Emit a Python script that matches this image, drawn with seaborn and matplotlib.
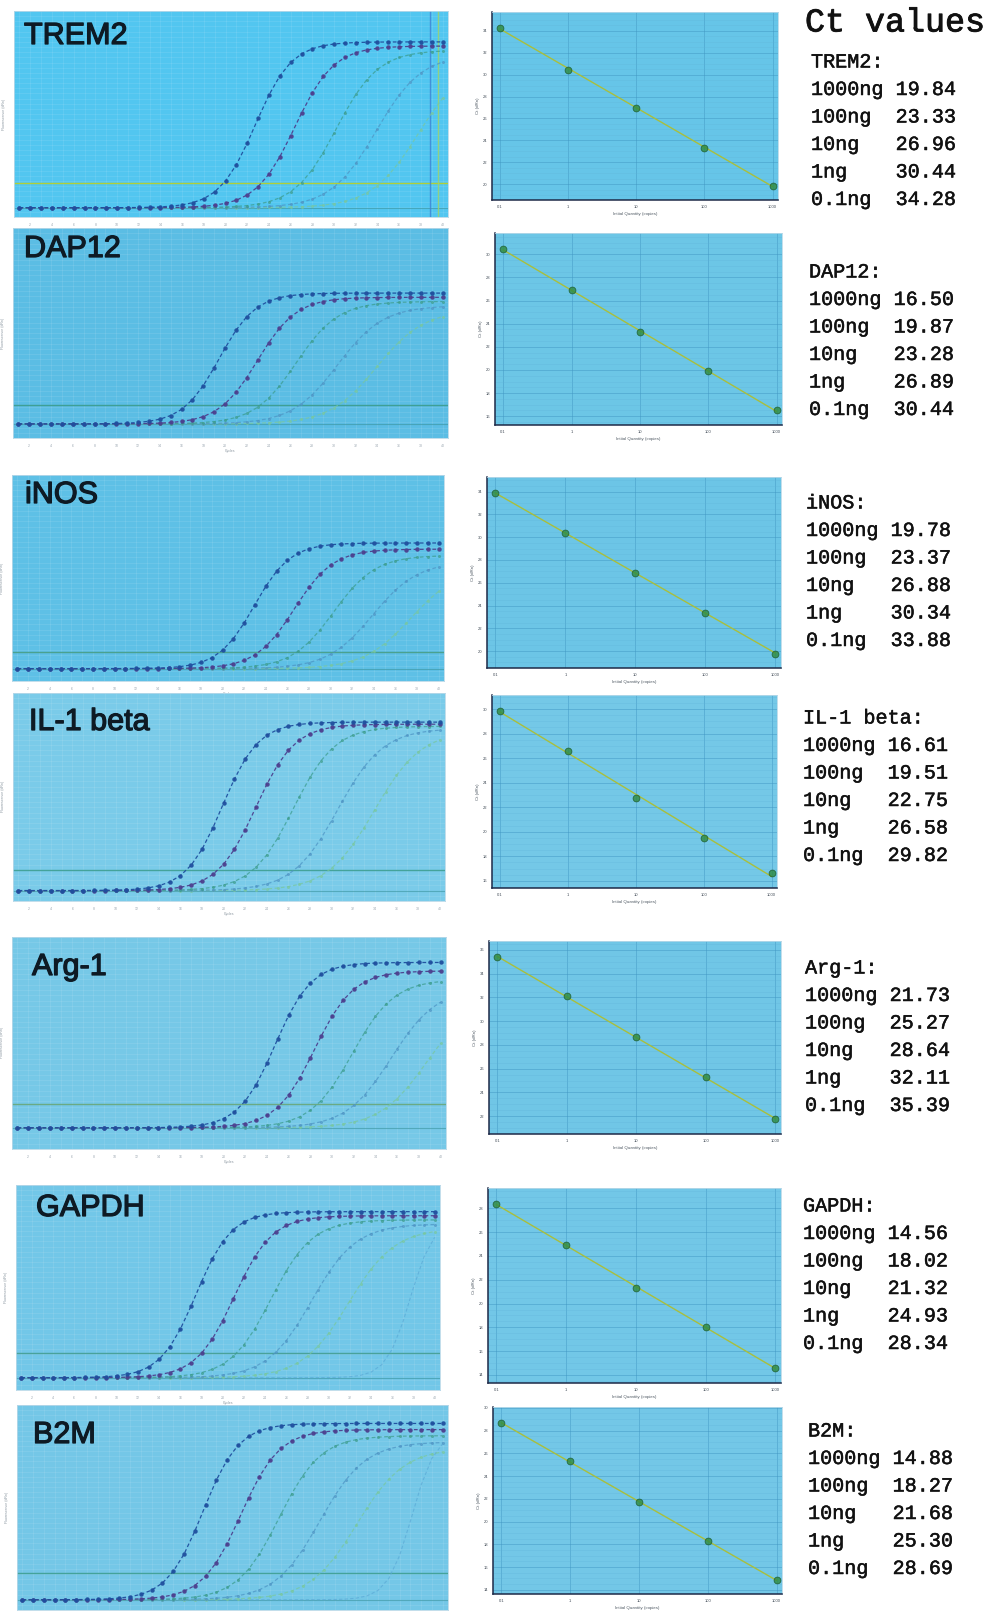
import numpy as np
import pandas as pd
import matplotlib
matplotlib.use("Agg")
import matplotlib.pyplot as plt
import matplotlib.patheffects as pe
import seaborn as sns
from matplotlib.ticker import MultipleLocator, FixedLocator, LogLocator, NullFormatter

sns.set_style("white")
plt.rcParams['font.family'] = ['Liberation Sans', 'DejaVu Sans']

W, H = 990, 1618

# ---------------- data ----------------
genes = ["TREM2", "DAP12", "iNOS", "IL-1 beta", "Arg-1", "GAPDH", "B2M"]
amounts = [1000, 100, 10, 1, 0.1]
amount_labels = ["1000ng", "100ng", "10ng", "1ng", "0.1ng"]

ct_trem2 = [19.84, 23.33, 26.96, 30.44, 34.28]
ct_dap12 = [16.50, 19.87, 23.28, 26.89, 30.44]
ct_inos = [19.78, 23.37, 26.88, 30.34, 33.88]
ct_il1b = [16.61, 19.51, 22.75, 26.58, 29.82]
ct_arg1 = [21.73, 25.27, 28.64, 32.11, 35.39]
ct_gapdh = [14.56, 18.02, 21.32, 24.93, 28.34]
ct_b2m = [14.88, 18.27, 21.68, 25.30, 28.69]
ct_all = [ct_trem2, ct_dap12, ct_inos, ct_il1b, ct_arg1, ct_gapdh, ct_b2m]

# amplification plot levels (fraction of panel height)
baseline_level = [0.045, 0.067, 0.06, 0.05, 0.10, 0.06, 0.05]
threshold_level = [0.165, 0.157, 0.14, 0.15, 0.21, 0.18, 0.18]
plateau_first = [0.85, 0.69, 0.67, 0.86, 0.88, 0.87, 0.91]
plateau_drop = [0.02, 0.02, 0.03, 0.01, 0.04, 0.02, 0.03]
# an extra late curve visible in some panels (cycle where it crosses threshold)
extra_curve_ct = [None, None, None, None, None, 35.8, 35.3]
cycles = np.arange(1, 41)

# ---------------- layout (pixel boxes x0, y0, x1, y1) ----------------
amp_boxes = [(14, 11, 448, 217), (13, 228, 448, 438), (12, 475, 444, 681),
             (13, 693, 445, 901), (12, 937, 446, 1149), (16, 1185, 440, 1390),
             (17, 1405, 448, 1610)]
std_boxes = [(492, 12, 778, 200), (495, 233, 782, 425), (487, 477, 781, 668),
             (492, 695, 777, 888), (489, 941, 781, 1134), (488, 1188, 781, 1383),
             (493, 1407, 782, 1594)]
label_pos = [(24, 36), (24, 249), (25, 495), (29, 722), (32, 967), (36, 1208), (33, 1435)]
text_pos = [(811, 62), (809, 272), (806, 503), (803, 718), (805, 968), (803, 1206), (808, 1431)]

amp_bg = ['#52c6f0', '#5bbde4', '#5ec0e6', '#7acbe9', '#76c8e7', '#72c7e8', '#74c7e7']
std_bg = ['#66c5e8', '#6cc6e6', '#6cc5e6', '#74c8e7', '#70c6e6', '#72c7e7', '#73c7e7']
curve_colors = ['#1f4f9e', '#4c3f8e', '#3b9c8c', '#4d94c4', '#78c79e']
extra_color = '#5aa9d6'
thr_colors = ['#b0cf38', '#3f9f95', '#4aa18f', '#44a39a', '#6aaa84', '#49a29a', '#44a39a']


def add_axes(box):
    x0, y0, x1, y1 = box
    return fig.add_axes([x0 / W, 1 - y1 / H, (x1 - x0) / W, (y1 - y0) / H])


def sigmoid_curve(ct, base, thr, plat, k):
    f = (thr - base) / (plat - base)
    mid = ct + np.log(1 / f - 1) / k
    return base + (plat - base) / (1 + np.exp(-k * (cycles - mid)))


fig = plt.figure(figsize=(W / 100, H / 100), dpi=100)
fig.patch.set_facecolor('white')

slopes = [0.60, 0.56, 0.52, 0.48, 0.46]
mono = ['Liberation Mono', 'DejaVu Sans Mono']

for gi, gene in enumerate(genes):
    cts = ct_all[gi]
    base = baseline_level[gi]
    thr = threshold_level[gi]
    last = gi == len(genes) - 1

    # ---------- amplification plot ----------
    ax = add_axes(amp_boxes[gi])
    ax.set_facecolor(amp_bg[gi])
    ax.set_xlim(0.5, 40.5)
    ax.set_ylim(0, 1)
    ax.xaxis.set_minor_locator(MultipleLocator(1))
    ax.yaxis.set_minor_locator(MultipleLocator(0.025))
    ax.grid(True, which='both', color='white', alpha=0.12, lw=0.5)
    ax.axhline(thr, color=thr_colors[gi], lw=1.0, zorder=1)
    ax.axhline(base, color='#3f9aa8', lw=0.8, alpha=0.7, zorder=1)

    for j in range(4, -1, -1):
        plat = plateau_first[gi] - plateau_drop[gi] * j
        y = sigmoid_curve(cts[j], base, thr, plat, slopes[j])
        ms = 3.2 if j < 2 else 2.2
        sns.lineplot(x=cycles, y=y, ax=ax, color=curve_colors[j], lw=0.9,
                     linestyle=(0, (3, 2)), marker='o', markersize=ms,
                     markeredgewidth=0, alpha=0.95 if j < 2 else 0.72, zorder=3 + (5 - j))
    if extra_curve_ct[gi] is not None:
        y = sigmoid_curve(extra_curve_ct[gi], base, thr, plateau_first[gi] - 0.04, 0.9)
        sns.lineplot(x=cycles, y=y, ax=ax, color=extra_color, lw=0.8,
                     linestyle=(0, (3, 2)), alpha=0.7, zorder=2)
    if gi == 0:
        ax.axvline(38.8, color='#3d7fd0', lw=1.0, alpha=0.75)
        ax.axvline(39.6, color='#9fd36a', lw=1.0, alpha=0.8)

    ax.xaxis.set_major_locator(MultipleLocator(2))
    ax.yaxis.set_major_locator(MultipleLocator(0.1))
    ax.tick_params(axis='both', which='major', direction='out', length=3, width=0.5,
                   colors='#9aa6b0', labelsize=2.5, pad=1)
    ax.tick_params(axis='both', which='minor', length=0)
    ax.set_yticklabels([])
    if last:
        ax.set_xticklabels([])
        ax.set_xlabel("")
    else:
        ax.set_xlabel("Cycles", fontsize=2.5, color='#8a96a0', labelpad=1)
    ax.set_ylabel("Fluorescence (dRn)", fontsize=2.5, color='#8a96a0', labelpad=2)
    for s in ax.spines.values():
        s.set_color('#b8d8e8')
        s.set_linewidth(0.6)

    lx, ly = label_pos[gi]
    fig.text(lx / W, 1 - ly / H, gene, fontsize=22, color='#0e1a24',
             ha='left', va='center', family=['Liberation Sans', 'DejaVu Sans'],
             path_effects=[pe.withStroke(linewidth=0.9, foreground='#0e1a24')])

    # ---------- standard curve ----------
    ax2 = add_axes(std_boxes[gi])
    ax2.set_facecolor(std_bg[gi])
    ax2.set_xscale('log')
    sns.regplot(x=np.array(amounts, dtype=float), y=np.array(cts), logx=True, ci=None,
                ax=ax2, truncate=True,
                scatter_kws=dict(s=24, color='#2e8a3e', edgecolors='#1c5a2a',
                                 linewidths=0.6, zorder=4),
                line_kws=dict(color='#a9bf3c', lw=1.0, zorder=3))
    ax2.set_xlim(0.076, 1200)
    span = max(cts) - min(cts)
    ax2.set_ylim(min(cts) - 0.09 * span, max(cts) + 0.1 * span)
    ax2.xaxis.set_major_locator(FixedLocator(amounts))
    ax2.set_xticklabels([str(a) for a in amounts])
    ax2.xaxis.set_minor_locator(LogLocator(base=10, subs=np.arange(2, 10)))
    ax2.xaxis.set_minor_formatter(NullFormatter())
    ax2.yaxis.set_major_locator(MultipleLocator(2))
    ax2.yaxis.set_minor_locator(MultipleLocator(0.5))
    ax2.grid(True, which='major', color='#3f95c2', lw=0.6, alpha=0.55)
    ax2.grid(True, which='minor', axis='y', color='#5fb2d8', lw=0.4, alpha=0.45)
    ax2.tick_params(axis='both', which='major', direction='inout', length=3, width=0.6,
                    colors='#404a55', labelsize=3, pad=2)
    ax2.tick_params(axis='both', which='minor', direction='inout', length=2, width=0.5,
                    colors='#404a55')
    ax2.set_xlabel("Initial Quantity (copies)", fontsize=3.2, color='#505a64', labelpad=2)
    ax2.set_ylabel("Ct (dRn)", fontsize=3.2, color='#505a64', labelpad=2)
    for name, s in ax2.spines.items():
        if name in ('left', 'bottom'):
            s.set_color('#1e2a48')
            s.set_linewidth(1.1)
        else:
            s.set_color('#b8d8e8')
            s.set_linewidth(0.6)

    # ---------- Ct value text ----------
    tx, ty = text_pos[gi]
    fx = [pe.withStroke(linewidth=0.35, foreground='#111111')]
    fig.text(tx / W, 1 - ty / H, gene + ":", fontsize=14.5, color='#111111',
             ha='left', va='center', family=mono, path_effects=fx)
    for r in range(5):
        line = f"{amount_labels[r]:<7}{cts[r]:.2f}"
        fig.text(tx / W, 1 - (ty + 27.5 * (r + 1)) / H, line, fontsize=14.5,
                 color='#111111', ha='left', va='center', family=mono, path_effects=fx)

fig.text(805 / W, 1 - 23 / H, "Ct values", fontsize=24, color='#111111',
         ha='left', va='center', family=mono,
         path_effects=[pe.withStroke(linewidth=0.6, foreground='#111111')])

fig.savefig("out.png", dpi=100, facecolor='white')
